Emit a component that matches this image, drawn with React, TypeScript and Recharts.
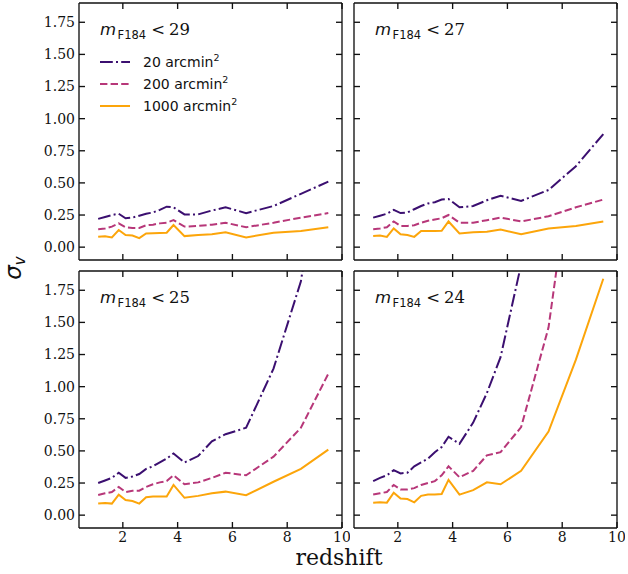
import { LineChart, Line, XAxis, YAxis } from "recharts"

// redshift grid shared by every curve
const Z = [1.1, 1.35, 1.6, 1.85, 2.1, 2.35, 2.6, 2.85, 3.1, 3.35, 3.6, 3.85, 4.25, 4.75, 5.25, 5.75, 6.5, 7.5, 8.5, 9.5]

// m_F184 < 29
const m29_20 = [0.22, 0.235, 0.25, 0.26, 0.225, 0.23, 0.245, 0.26, 0.27, 0.29, 0.315, 0.31, 0.255, 0.255, 0.285, 0.31, 0.265, 0.32, 0.415, 0.51]
const m29_200 = [0.14, 0.145, 0.16, 0.185, 0.155, 0.15, 0.15, 0.17, 0.175, 0.185, 0.19, 0.21, 0.16, 0.165, 0.175, 0.19, 0.155, 0.19, 0.23, 0.265]
const m29_1000 = [0.08, 0.085, 0.075, 0.133, 0.094, 0.09, 0.07, 0.107, 0.108, 0.11, 0.112, 0.172, 0.086, 0.095, 0.1, 0.115, 0.076, 0.112, 0.125, 0.154]

// m_F184 < 27
const m27_20 = [0.23, 0.245, 0.26, 0.29, 0.265, 0.27, 0.295, 0.32, 0.34, 0.35, 0.37, 0.375, 0.31, 0.32, 0.365, 0.4, 0.36, 0.445, 0.63, 0.88]
const m27_200 = [0.14, 0.145, 0.155, 0.2, 0.165, 0.165, 0.17, 0.19, 0.205, 0.215, 0.225, 0.25, 0.19, 0.19, 0.21, 0.23, 0.2, 0.24, 0.31, 0.37]
const m27_1000 = [0.086, 0.09, 0.08, 0.146, 0.1, 0.095, 0.08, 0.125, 0.125, 0.125, 0.127, 0.2, 0.107, 0.115, 0.12, 0.138, 0.1, 0.145, 0.165, 0.2]

// m_F184 < 25
const m25_20 = [0.25, 0.27, 0.29, 0.33, 0.29, 0.3, 0.32, 0.36, 0.38, 0.41, 0.44, 0.48, 0.41, 0.46, 0.575, 0.63, 0.68, 1.14, 1.82, 3.2]
const m25_200 = [0.157, 0.17, 0.18, 0.22, 0.18, 0.19, 0.19, 0.22, 0.24, 0.255, 0.265, 0.31, 0.24, 0.255, 0.29, 0.33, 0.31, 0.455, 0.68, 1.1]
const m25_1000 = [0.09, 0.095, 0.09, 0.16, 0.118, 0.11, 0.09, 0.14, 0.145, 0.145, 0.145, 0.235, 0.135, 0.15, 0.17, 0.183, 0.155, 0.26, 0.36, 0.51]

// m_F184 < 24
const m24_20 = [0.265, 0.29, 0.31, 0.35, 0.325, 0.33, 0.38, 0.41, 0.44, 0.49, 0.53, 0.61, 0.555, 0.72, 0.95, 1.23, 1.95, 3.5, 5.0, 7.0]
const m24_200 = [0.16, 0.17, 0.18, 0.235, 0.2, 0.2, 0.21, 0.235, 0.25, 0.265, 0.31, 0.38, 0.295, 0.345, 0.465, 0.49, 0.685, 1.46, 3.0, 4.5]
const m24_1000 = [0.097, 0.1, 0.097, 0.175, 0.13, 0.125, 0.1, 0.15, 0.16, 0.16, 0.165, 0.275, 0.16, 0.195, 0.255, 0.24, 0.345, 0.65, 1.21, 1.84]

const X_TICKS = [2, 4, 6, 8, 10]
const Y_TICKS = [0, 0.25, 0.5, 0.75, 1, 1.25, 1.5, 1.75]
const AREAS = ["20", "200", "1000"]

const C20 = "#3b0f70"
const C200 = "#b73779"
const C1000 = "#fca50a"
const DASHDOT = "12.8 3.2 2 3.2"
const DASHED = "7.4 3.2"
const LW = 2

const INK = "#111"
const FRAME = 1.35
const AXIS = { stroke: INK, strokeWidth: FRAME }
const SERIF = "DejaVu Serif"
const SANS = "DejaVu Sans"

const PW = 263
const PH = 257
const YW = 60
const TL = 6 // inward tick length

type Side = "bottom" | "top" | "left" | "right"

// ticks point into the frame (matplotlib direction="in")
function makeTick(side: Side, label: boolean, fmt?: (v: number) => string) {
  return (p: any) => {
    const { x, y, payload } = p
    const v = payload.value
    const text = fmt ? fmt(v) : String(v)
    if (side === "bottom") {
      return (
        <g>
          <line x1={x} x2={x} y1={y} y2={y - TL} stroke={INK} strokeWidth={FRAME} />
          {label && <text x={x} y={y + 4} dy="0.71em" textAnchor="middle" fontFamily={SERIF} fontSize={14} fill={INK}>{text}</text>}
        </g>
      )
    }
    if (side === "top") {
      return <line x1={x} x2={x} y1={y} y2={y + TL} stroke={INK} strokeWidth={FRAME} />
    }
    if (side === "left") {
      return (
        <g>
          <line x1={x} x2={x + TL} y1={y} y2={y} stroke={INK} strokeWidth={FRAME} />
          {label && <text x={x - 4} y={y} dy="0.355em" textAnchor="end" fontFamily={SERIF} fontSize={14} fill={INK}>{text}</text>}
        </g>
      )
    }
    return <line x1={x} x2={x - TL} y1={y} y2={y} stroke={INK} strokeWidth={FRAME} />
  }
}

const fmt2 = (v: number) => v.toFixed(2)

interface PanelProps {
  left: number
  top: number
  s20: number[]
  s200: number[]
  s1000: number[]
  xLabels: boolean
  yLabels: boolean
}

function Panel({ left, top, s20, s200, s1000, xLabels, yLabels }: PanelProps) {
  const data = Z.map((z, i) => ({ z, a: s20[i], b: s200[i], c: s1000[i] }))
  return (
    <div style={{ position: "absolute", left: left - YW, top: top - 2 }}>
      <LineChart width={YW + PW + 8} height={2 + PH + 30} data={data} margin={{ top: 1, right: 7, bottom: 0, left: 0 }}>
        <XAxis xAxisId="b" dataKey="z" type="number" domain={[0.4, 10]} ticks={X_TICKS} interval={0}
          allowDataOverflow height={30} tickSize={0} tickMargin={0} tickLine={false}
          tick={makeTick("bottom", xLabels)} axisLine={AXIS} />
        <XAxis xAxisId="t" dataKey="z" type="number" orientation="top" domain={[0.4, 10]} ticks={X_TICKS}
          interval={0} allowDataOverflow height={1} tickSize={0} tickMargin={0} tickLine={false}
          tick={makeTick("top", false)} axisLine={AXIS} />
        <YAxis yAxisId="l" type="number" domain={[-0.1, 1.9]} ticks={Y_TICKS} interval={0} allowDataOverflow
          width={YW} tickSize={0} tickMargin={0} tickLine={false}
          tick={makeTick("left", yLabels, fmt2)} axisLine={AXIS} />
        <YAxis yAxisId="r" type="number" orientation="right" domain={[-0.1, 1.9]} ticks={Y_TICKS} interval={0}
          allowDataOverflow width={1} tickSize={0} tickMargin={0} tickLine={false}
          tick={makeTick("right", false)} axisLine={AXIS} />
        <Line xAxisId="b" yAxisId="l" dataKey="a" type="linear" stroke={C20} strokeWidth={LW}
          strokeDasharray={DASHDOT} dot={false} isAnimationActive={false} />
        <Line xAxisId="b" yAxisId="l" dataKey="b" type="linear" stroke={C200} strokeWidth={LW}
          strokeDasharray={DASHED} dot={false} isAnimationActive={false} />
        <Line xAxisId="b" yAxisId="l" dataKey="c" type="linear" stroke={C1000} strokeWidth={LW}
          dot={false} isAnimationActive={false} />
      </LineChart>
    </div>
  )
}

function Mag({ x, y, limit }: { x: number; y: number; limit: string }) {
  return (
    <text x={x} y={y} fill={INK}>
      <tspan fontFamily={SANS} fontStyle="italic" fontSize={16.5}>m</tspan>
      <tspan fontFamily={SANS} fontSize={11.5} dx={1.5} dy={3.5}>F184</tspan>
      <tspan fontFamily={SANS} fontSize={16.5} dx={5} dy={-3.5}>&lt;</tspan>
      <tspan fontFamily={SERIF} fontSize={16.5} dx={4}>{limit}</tspan>
    </text>
  )
}

export default function App() {
  const legendRows = [
    { c: C20, dash: DASHDOT },
    { c: C200, dash: DASHED },
    { c: C1000, dash: undefined },
  ]
  return (
    <div style={{ position: "absolute", left: 0, top: 0, width: 628, height: 574, background: "#fff" }}>
      <Panel left={79} top={3} s20={m29_20} s200={m29_200} s1000={m29_1000} xLabels={false} yLabels />
      <Panel left={354} top={3} s20={m27_20} s200={m27_200} s1000={m27_1000} xLabels={false} yLabels={false} />
      <Panel left={79} top={271} s20={m25_20} s200={m25_200} s1000={m25_1000} xLabels yLabels />
      <Panel left={354} top={271} s20={m24_20} s200={m24_200} s1000={m24_1000} xLabels yLabels={false} />
      <svg width={628} height={574} style={{ position: "absolute", left: 0, top: 0, pointerEvents: "none" }}>
        <Mag x={100} y={35} limit="29" />
        <Mag x={375} y={35} limit="27" />
        <Mag x={100} y={303} limit="25" />
        <Mag x={375} y={303} limit="24" />
        {legendRows.map((r, i) => (
          <g key={AREAS[i]}>
            <line x1={100} x2={130} y1={62 + i * 22} y2={62 + i * 22} stroke={r.c} strokeWidth={LW} strokeDasharray={r.dash} />
            <text x={143} y={67 + i * 22} fontFamily={SANS} fontSize={14} fill={INK}>
              {AREAS[i]} arcmin<tspan fontSize={9.5} dy={-6}>2</tspan>
            </text>
          </g>
        ))}
        <text transform="translate(21,268) rotate(-90)" textAnchor="middle" fill={INK}>
          <tspan fontFamily={SANS} fontStyle="italic" fontSize={23}>σ</tspan>
          <tspan fontFamily={SANS} fontStyle="italic" fontSize={15} dy={4}>v</tspan>
        </text>
        <text x={339} y={565} textAnchor="middle" fontFamily={SERIF} fontSize={22} fill={INK}>redshift</text>
      </svg>
    </div>
  )
}
